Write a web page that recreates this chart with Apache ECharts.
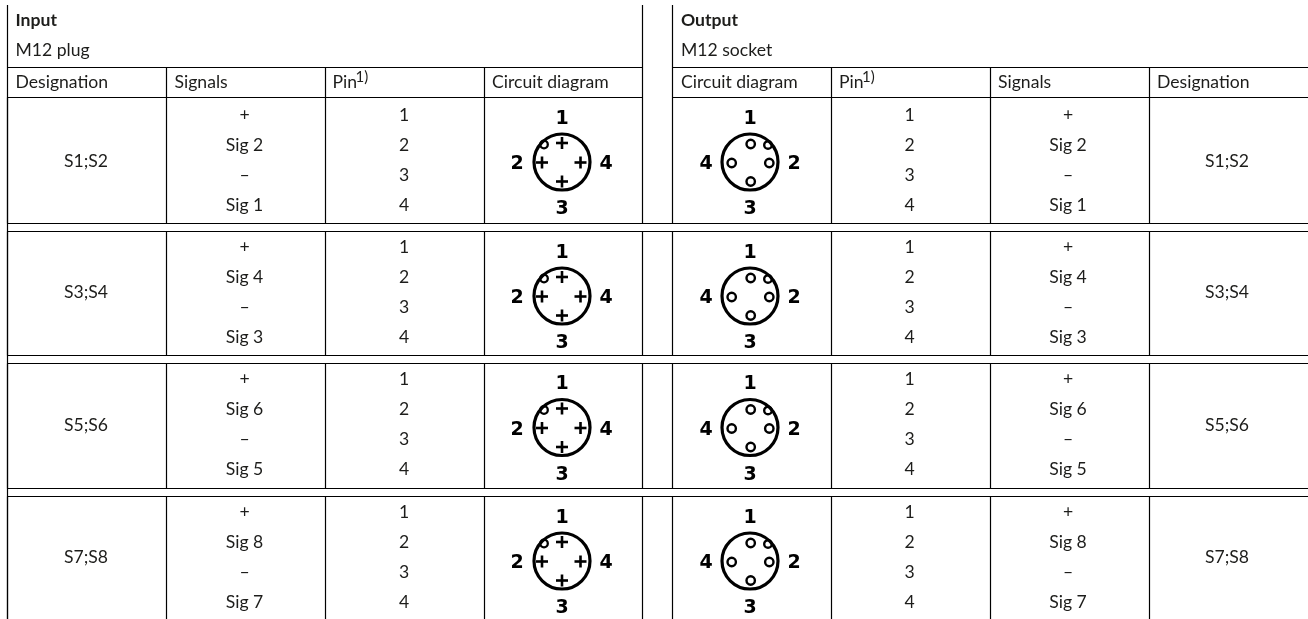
<!DOCTYPE html>
<html><head><meta charset="utf-8">
<style>html,body{margin:0;padding:0;background:#fff}#c{width:1308px;height:619px}</style>
<script src="https://cdn.jsdelivr.net/npm/echarts@6/dist/echarts.min.js"></script>
</head><body><div id="c"></div>
<script>
// ---- table content ----
const designations = ['S1;S2', 'S3;S4', 'S5;S6', 'S7;S8'];
const signalsByRow = [
  ['+', 'Sig 2', '–', 'Sig 1'],
  ['+', 'Sig 4', '–', 'Sig 3'],
  ['+', 'Sig 6', '–', 'Sig 5'],
  ['+', 'Sig 8', '–', 'Sig 7']
];
const pins = ['1', '2', '3', '4'];
const inputTitle = ['Input', 'M12 plug'];
const outputTitle = ['Output', 'M12 socket'];
const inputHeaders = ['Designation', 'Signals', 'Pin', 'Circuit diagram'];
const outputHeaders = ['Circuit diagram', 'Pin', 'Signals', 'Designation'];
const pinNote = '1)';

// ---- layout ----
const FONT = 'Lato, "Noto Sans", sans-serif';
const INK = '#1d1d1b';
const vLines = [7.5, 166.5, 325.5, 484.5, 642.5, 672.5, 831.5, 990.5, 1149.5];
const rowTops = [97.5, 231.5, 363.5, 496.5];
const rowBottoms = [223.5, 355.5, 488.5, 619];
const rowTextY = [115, 247, 379, 512];
const rowDesigY = [161, 292, 425, 557];
const rowDiagY = [162, 296, 427.5, 561];

const lines = [], texts = [], rings = [], plusses = [];
const H = (y, a, b) => lines.push([a, y, b, y]);
const V = (x, a, b) => lines.push([x, a, x, b]);
const T = (s, x, y, opt) => texts.push(Object.assign({ s, x, y }, opt || {}));

// frame
V(7.5, 5, 619); V(642.5, 5, 97.5); V(672.5, 5, 97.5);
H(67.5, 7, 643); H(67.5, 672, 1308);
H(97.5, 7, 643); H(97.5, 672, 1308);
vLines.forEach(x => {
  if (x !== 7.5 && x !== 642.5 && x !== 672.5) V(x, 67.5, 97.5);
  rowTops.forEach((t, i) => V(x, t, rowBottoms[i]));
});
rowBottoms.slice(0, 3).forEach((b, i) => { H(b, 7, 1308); H(rowTops[i + 1], 7, 1308); });

// titles and headers
[[inputTitle, 15.5], [outputTitle, 681]].forEach(([t, x]) => {
  T(t[0], x, 20, { bold: true, align: 'left' });
  T(t[1], x, 50, { align: 'left' });
});
const hdrXIn = [15.5, 174.5, 332.5, 492];
const hdrXOut = [681, 839, 998, 1157];
[[inputHeaders, hdrXIn], [outputHeaders, hdrXOut]].forEach(([h, xs]) => {
  h.forEach((s, i) => {
    T(s, xs[i], 82, { align: 'left' });
    if (s === 'Pin') T(pinNote, xs[i] + 23, 77, { align: 'left', size: 15 });
  });
});

// body rows
const colCenters = { desIn: 86, sigIn: 244.5, pinIn: 404, sigOut: 1068, pinOut: 909.5, desOut: 1227 };
designations.forEach((d, r) => {
  T(d, colCenters.desIn, rowDesigY[r]);
  T(d, colCenters.desOut, rowDesigY[r]);
  signalsByRow[r].forEach((s, k) => {
    const y = rowTextY[r] + k * 30;
    T(s, colCenters.sigIn, y); T(s, colCenters.sigOut, y);
    T(pins[k], colCenters.pinIn, y); T(pins[k], colCenters.pinOut, y);
  });
  const cy = rowDiagY[r];
  // Input (plug)
  const ci = 562;
  rings.push([ci, cy, 28, 3.2], [ci - 18, cy - 17.5, 3.8, 2.3]);
  [[0, -19], [-20, 0.5], [18.5, 0.5], [0, 19.5]].forEach(p => plusses.push([ci + p[0], cy + p[1]]));
  T('1', ci, cy - 43, { glyph: true }); T('2', ci - 45, cy + 2.5, { glyph: true });
  T('4', ci + 44, cy + 2.5, { glyph: true }); T('3', ci, cy + 47.5, { glyph: true });
  // Output (socket)
  const co = 750;
  rings.push([co, cy, 28, 3.2]);
  [[0.7, -18, 4.2], [18, -17, 3.8], [-18.3, 1, 4.2], [19.3, 1, 4.2], [0.7, 19.5, 4.2]]
    .forEach(p => rings.push([co + p[0], cy + p[1], p[2], 2.4]));
  T('1', co, cy - 43, { glyph: true }); T('4', co - 44, cy + 2.5, { glyph: true });
  T('2', co + 44, cy + 2.5, { glyph: true }); T('3', co, cy + 47.5, { glyph: true });
});

const chart = echarts.init(document.getElementById('c'), null, { renderer: 'canvas' });
const custom = (data, renderItem) => ({
  type: 'custom', coordinateSystem: 'cartesian2d', silent: true, clip: false,
  encode: { x: 0, y: 1 }, data, renderItem
});
chart.setOption({
  animation: false,
  backgroundColor: '#fff',
  grid: { left: 0, right: 0, top: 0, bottom: 0 },
  xAxis: { type: 'value', min: 0, max: 1308, show: false },
  yAxis: { type: 'value', min: 0, max: 619, inverse: true, show: false },
  series: [
    custom(lines, (p, api) => {
      const a = api.coord([api.value(0), api.value(1)]), b = api.coord([api.value(2), api.value(3)]);
      return { type: 'line', shape: { x1: a[0], y1: a[1], x2: b[0], y2: b[1] },
        style: { stroke: '#000', lineWidth: 1.2 } };
    }),
    custom(rings, (p, api) => {
      const c = api.coord([api.value(0), api.value(1)]);
      return { type: 'circle', shape: { cx: c[0], cy: c[1], r: api.value(2) },
        style: { fill: 'none', stroke: '#000', lineWidth: api.value(3) } };
    }),
    custom(plusses, (p, api) => {
      const c = api.coord([api.value(0), api.value(1)]), L = 6;
      return { type: 'group', children: [
        { type: 'line', shape: { x1: c[0] - L, y1: c[1], x2: c[0] + L, y2: c[1] }, style: { stroke: '#000', lineWidth: 2.6 } },
        { type: 'line', shape: { x1: c[0], y1: c[1] - L, x2: c[0], y2: c[1] + L }, style: { stroke: '#000', lineWidth: 2.6 } }
      ] };
    }),
    custom(texts.map((t, i) => [t.x, t.y, i]), (p, api) => {
      const t = texts[api.value(2)];
      const c = api.coord([t.x, t.y]);
      const font = t.glyph ? 'bold 19px "DejaVu Sans"'
        : (t.bold ? 'bold ' : '') + (t.size || 17.6) + 'px ' + FONT;
      return { type: 'text', style: { text: t.s, x: c[0], y: c[1], font,
        fill: t.glyph ? '#000' : INK, align: t.align || 'center', verticalAlign: 'middle' } };
    })
  ]
});
</script></body></html>
